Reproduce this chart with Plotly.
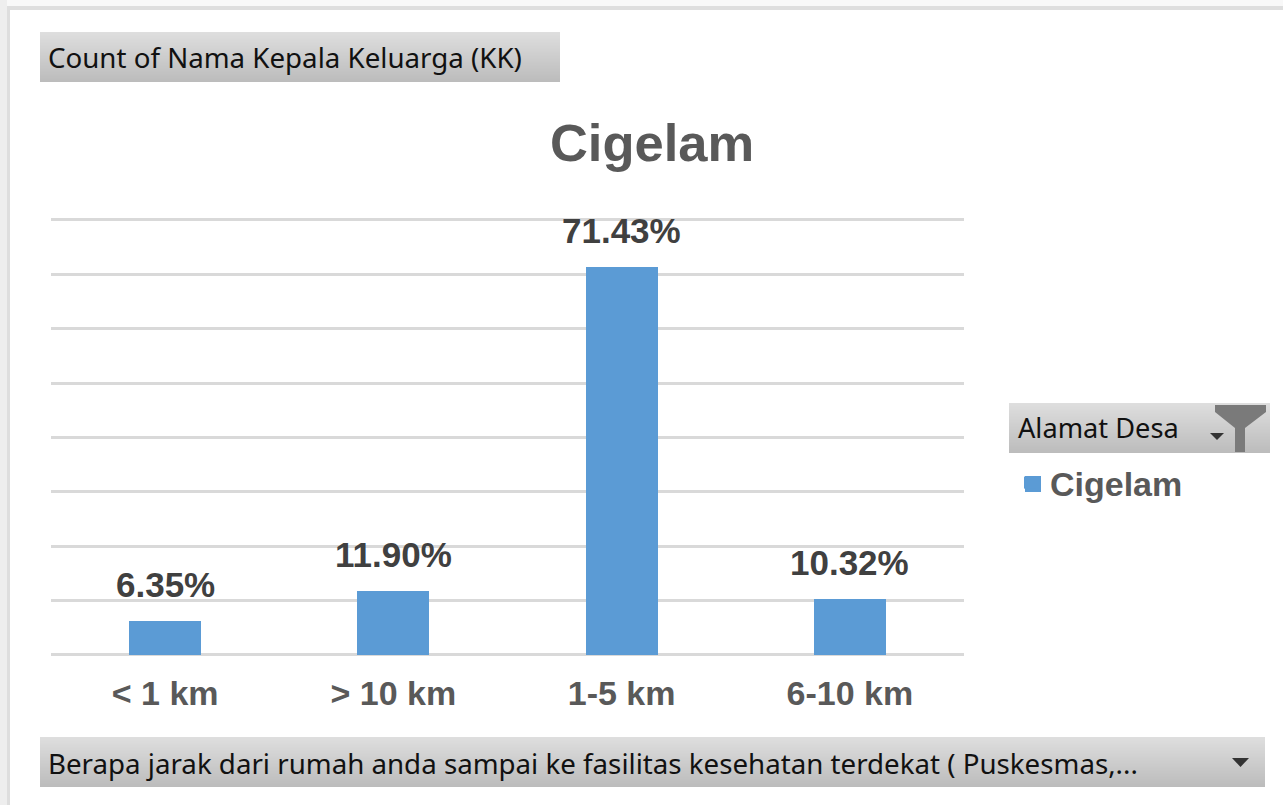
import plotly.graph_objects as go

W, H = 1283, 805
categories = ["< 1 km", "> 10 km", "1-5 km", "6-10 km"]
values = [6.35, 11.90, 71.43, 10.32]
labels = ["6.35%", "11.90%", "71.43%", "10.32%"]
series_name = "Cigelam"
value_button = "Count of Nama Kepala Keluarga (KK)"
legend_button = "Alamat Desa"
axis_button = "Berapa jarak dari rumah anda sampai ke fasilitas kesehatan terdekat ( Puskesmas,..."

PL, PR, PB = 51, 964, 655
YMAX = 80.6
PT = PB - YMAX * 5.4375


def px(x):
    return x / W


def py(y):
    return 1 - y / H


shapes = []


def rect(x0, y0, x1, y1, color, layer="below"):
    shapes.append(dict(type="rect", xref="paper", yref="paper", x0=px(x0), x1=px(x1),
                       y0=py(y0), y1=py(y1), fillcolor=color, line_width=0, layer=layer))


def poly(points, color):
    d = "M" + " L".join(f"{px(a):.5f},{py(b):.5f}" for a, b in points) + " Z"
    shapes.append(dict(type="path", xref="paper", yref="paper", path=d,
                       fillcolor=color, line_width=0, layer="above"))


def button(x0, y0, x1, y1):
    n = y1 - y0
    for i in range(n):
        v = round(222 - (222 - 188) * i / max(n - 1, 1))
        rect(x0, y0 + i, x1, y0 + i + 1, f"rgb({v},{v},{v})")


# outer frame
rect(0, 0, W, 6, "#f8f8f8")
rect(0, 0, 7, H, "#eeeeee")
rect(7, 6, W, 10, "#dedede")
rect(7, 6, 10, H, "#dedede")

button(40, 32, 560, 82)
button(1009, 403, 1270, 453)
button(40, 737, 1265, 787)

# funnel and drop-down arrows
poly([(1215, 405), (1266, 405), (1266, 412), (1245, 428), (1245, 452),
      (1235, 452), (1235, 428), (1215, 412)], "#7a7a7a")
poly([(1210, 433), (1224, 433), (1217, 440)], "#333333")
poly([(1232, 758), (1249, 758), (1240.5, 767)], "#333333")
# legend key
rect(1025, 476, 1041, 492, "#5b9bd5", layer="above")

BTN_FONT = dict(family="Noto Sans", size=27.7, color="#111111")
annotations = [
    dict(text=value_button, x=px(46), y=py(57), xanchor="left", yanchor="middle", font=BTN_FONT),
    dict(text=legend_button, x=px(1016), y=py(428), xanchor="left", yanchor="middle",
         font=dict(BTN_FONT, size=27.2)),
    dict(text=axis_button, x=px(46), y=py(763), xanchor="left", yanchor="middle", font=BTN_FONT),
]
for a in annotations:
    a.update(xref="paper", yref="paper", showarrow=False)

for i, (v, lab) in enumerate(zip(values, labels)):
    annotations.append(dict(
        text=f"<b>{lab}</b>", x=i, y=v, xref="x", yref="y", showarrow=False,
        yanchor="middle", yshift=36,
        font=dict(family="Liberation Sans", size=35, color="#404040")))

fig = go.Figure(go.Bar(
    x=categories, y=values, name=series_name, width=0.315,
    marker=dict(color="#5b9bd5", line_width=0),
    hoverinfo="skip",
))
fig.update_layout(
    width=W, height=H, autosize=False,
    margin=dict(l=0, r=0, t=0, b=0),
    paper_bgcolor="white", plot_bgcolor="white",
    bargap=0,
    title=dict(text=f"<b>{series_name}</b>", x=px(652), xanchor="center",
               y=py(143), yanchor="middle",
               font=dict(family="Liberation Sans", size=52.5, color="#595959")),
    showlegend=True,
    legend=dict(x=px(1010), y=py(483), xanchor="left", yanchor="middle",
                bgcolor="rgba(0,0,0,0)",
                font=dict(family="Liberation Sans", size=34, color="#595959", weight="bold"),
                itemwidth=30),
    shapes=shapes,
    annotations=annotations,
    xaxis=dict(domain=[px(PL), px(PR)], range=[-0.5, 3.5], showgrid=False,
               showline=False, ticks="", ticklen=0, ticklabelstandoff=15,
               tickfont=dict(family="Liberation Sans", size=34, color="#595959", weight="bold")),
    yaxis=dict(domain=[py(PB), py(PT)], range=[0, YMAX], dtick=10, showticklabels=False,
               showgrid=True, gridcolor="#d9d9d9", gridwidth=3,
               zeroline=True, zerolinecolor="#d9d9d9", zerolinewidth=3, ticks=""),
)
fig.write_html("out.html", config=dict(displayModeBar=False),
               post_script="document.body.style.margin='0';document.body.style.overflow='hidden';")
